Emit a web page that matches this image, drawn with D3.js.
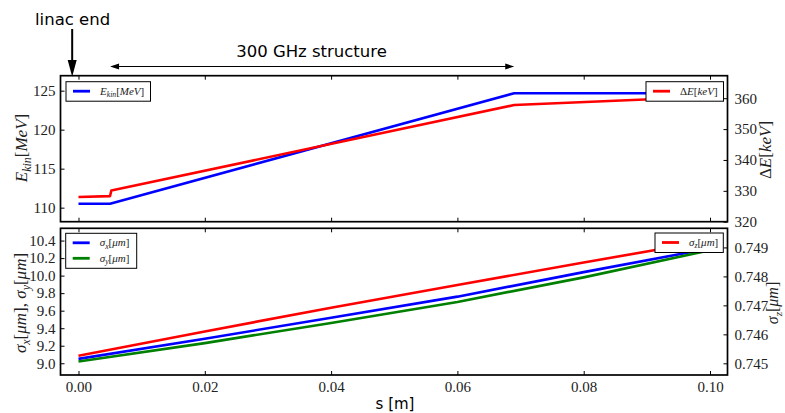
<!DOCTYPE html>
<html>
<head>
<meta charset="utf-8">
<script src="https://cdn.jsdelivr.net/npm/d3@7"></script>
<style>
  body { margin: 0; background: #fff; }
  svg { display: block; }
  .tick text { font-family: "Liberation Serif", serif; font-size: 15px; fill: #222; }
  .tick line { stroke: #000; stroke-width: 1; }
</style>
</head>
<body>
<script>
'use strict';

// top panel: kinetic energy (left) and energy spread (right)
var ekinS = [0, 0.005, 0.069, 0.1];
var ekinVal = [110.5, 110.5, 124.67, 124.67];
var dES = [0, 0.005, 0.0052, 0.069, 0.1];
var dEVal = [328.0, 328.3, 330.1, 357.8, 360.5];

// bottom panel: beam sizes
var sigS = [0, 0.02, 0.04, 0.06, 0.08, 0.1];
var sigX = [9.05, 9.28, 9.52, 9.76, 10.04, 10.31];
var sigY = [9.02, 9.23, 9.46, 9.70, 9.98, 10.29];
var sigZ = [0.74526, 0.74610, 0.74692, 0.74770, 0.74848, 0.74924];

var xTicks = [0, 0.02, 0.04, 0.06, 0.08, 0.1];
var ekinTicks = [110, 115, 120, 125];
var dETicks = [320, 330, 340, 350, 360];
var sigTicks = [9.0, 9.2, 9.4, 9.6, 9.8, 10.0, 10.2, 10.4];
var sigZTicks = [0.745, 0.746, 0.747, 0.748, 0.749];

var structStart = 0.005, structEnd = 0.069, linacEnd = -0.001;

var w = 785, h = 413,
    left = 60.5, right = 727.5,
    top1 = 75.7, bot1 = 221.7,
    top2 = 228.3, bot2 = 375;

var svg = d3.select("body").append("svg")
    .attr("width", w)
    .attr("height", h);

var x = d3.scaleLinear().domain([-0.00285, 0.10277]).range([left, right]);
var y1 = d3.scaleLinear().domain([108.2, 126.92]).range([bot1, top1]);
var y2 = d3.scaleLinear().domain([320, 367.3]).range([bot1, top1]);
var y3 = d3.scaleLinear().domain([8.866, 10.54]).range([bot2, top2]);
var y4 = d3.scaleLinear().domain([0.744597, 0.74966]).range([bot2, top2]);

function axis(g, a, tx, ty) {
    svg.append("g")
        .attr("transform", "translate(" + tx + "," + ty + ")")
        .call(a)
        .call(function (s) { s.select(".domain").remove(); });
}

// x ticks, inside, on both edges of both panels
[[top1, bot1], [top2, bot2]].forEach(function (p, i) {
    axis(svg, d3.axisTop(x).tickValues(xTicks).tickSize(-4).tickFormat(""), 0, p[0]);
    axis(svg, d3.axisBottom(x).tickValues(xTicks).tickSize(-4).tickPadding(6)
        .tickFormat(i == 1 ? d3.format(".2f") : ""), 0, p[1]);
});

axis(svg, d3.axisLeft(y1).tickValues(ekinTicks).tickSize(-4).tickPadding(5).tickFormat(d3.format("d")), left, 0);
axis(svg, d3.axisRight(y2).tickValues(dETicks).tickSize(-4).tickPadding(7).tickFormat(d3.format("d")), right, 0);
axis(svg, d3.axisLeft(y3).tickValues(sigTicks).tickSize(-4).tickPadding(5).tickFormat(d3.format(".1f")), left, 0);
axis(svg, d3.axisRight(y4).tickValues(sigZTicks).tickSize(-4).tickPadding(7).tickFormat(d3.format(".3f")), right, 0);

function line(xs, ys, ys2, color) {
    var pts = xs.map(function (d, i) { return [x(d), ys2(ys[i])]; });
    svg.append("path")
        .attr("d", d3.line()(pts))
        .attr("fill", "none")
        .attr("stroke", color)
        .attr("stroke-width", 2.6)
        .attr("stroke-linejoin", "round");
}

line(ekinS, ekinVal, y1, "#0000ff");
line(dES, dEVal, y2, "#ff0000");
line(sigS, sigX, y3, "#0000ff");
line(sigS, sigY, y3, "#008000");
line(sigS, sigZ, y4, "#ff0000");

// frames
[[top1, bot1], [top2, bot2]].forEach(function (p) {
    svg.append("rect")
        .attr("x", left).attr("y", p[0])
        .attr("width", right - left).attr("height", p[1] - p[0])
        .attr("fill", "none").attr("stroke", "#000").attr("stroke-width", 1.7);
});

// math-like text: segments of [text, italic, sub]
function mathText(g, parts, size) {
    var t = g.append("text")
        .attr("font-family", "Liberation Serif, serif")
        .attr("font-size", size)
        .attr("fill", "#222");
    parts.forEach(function (p) {
        var ts = t.append("tspan").text(p[0])
            .attr("font-style", p[1] ? "italic" : "normal");
        if (p[2]) ts.attr("font-size", size * 0.7).attr("dy", size * 0.22);
        else if (p[3]) ts.attr("dy", -size * 0.22);
    });
    return t;
}

var ekinParts = [["E", 1], ["kin", 1, 1], ["[", 0, 0, 1], ["MeV", 1], ["]", 0]];
var dEParts = [["\u0394", 0], ["E", 1], ["[", 0], ["keV", 1], ["]", 0]];
var sxParts = [["\u03c3", 1], ["x", 1, 1], ["[", 0, 0, 1], ["\u03bcm", 1], ["],", 0], [" \u03c3", 1], ["y", 1, 1], ["[", 0, 0, 1], ["\u03bcm", 1], ["]", 0]];
var szParts = [["\u03c3", 1], ["z", 1, 1], ["[", 0, 0, 1], ["\u03bcm", 1], ["]", 0]];

function yLabel(parts, cx, cy, size) {
    var g = svg.append("g").attr("transform", "translate(" + cx + "," + cy + ") rotate(-90)");
    mathText(g, parts, size).attr("text-anchor", "middle").attr("y", 5);
}
yLabel(ekinParts, 22, 148, 17);
yLabel(dEParts, 766, 150, 17);
yLabel(sxParts, 21, 303, 17);
yLabel(szParts, 773, 303, 16);

// legends
function legend(bx, by, bw, items) {
    var bh = items.length * 15.5 + 4;
    var g = svg.append("g");
    g.append("rect")
        .attr("x", bx).attr("y", by).attr("width", bw).attr("height", bh)
        .attr("fill", "#fff").attr("stroke", "#000").attr("stroke-width", 1);
    items.forEach(function (it, i) {
        var cy = by + 9.5 + i * 15.5;
        g.append("line")
            .attr("x1", bx + 7).attr("x2", bx + 24)
            .attr("y1", cy).attr("y2", cy)
            .attr("stroke", it.color).attr("stroke-width", 2.8);
        mathText(g, it.parts, 11).attr("x", bx + 34).attr("y", cy + 3.5);
    });
}
legend(66, 81.7, 84.5, [{color: "#0000ff", parts: ekinParts}]);
legend(646, 81.7, 77.5, [{color: "#ff0000", parts: dEParts}]);
legend(65.7, 233.3, 71, [
    {color: "#0000ff", parts: [["\u03c3", 1], ["x", 1, 1], ["[", 0, 0, 1], ["\u03bcm", 1], ["]", 0]]},
    {color: "#008000", parts: [["\u03c3", 1], ["y", 1, 1], ["[", 0, 0, 1], ["\u03bcm", 1], ["]", 0]]}
]);
legend(655, 233, 68.3, [{color: "#ff0000", parts: szParts}]);

// annotations
svg.append("text")
    .attr("x", 35).attr("y", 25)
    .attr("font-family", "DejaVu Sans, sans-serif").attr("font-size", 16.5)
    .text("linac end");

var ax = x(linacEnd);
svg.append("line")
    .attr("x1", ax).attr("x2", ax).attr("y1", 29).attr("y2", 62)
    .attr("stroke", "#000").attr("stroke-width", 2);
svg.append("path")
    .attr("d", "M" + (ax - 4.5) + ",60L" + (ax + 4.5) + ",60L" + ax + "," + (top1 + 1) + "Z")
    .attr("fill", "#000");

svg.append("text")
    .attr("x", 311.5).attr("y", 57)
    .attr("text-anchor", "middle")
    .attr("font-family", "DejaVu Sans, sans-serif").attr("font-size", 16.5)
    .text("300 GHz structure");

var a1 = x(structStart), a2 = x(structEnd), ay = 66.5;
svg.append("line")
    .attr("x1", a1 + 4).attr("x2", a2 - 4).attr("y1", ay).attr("y2", ay)
    .attr("stroke", "#000").attr("stroke-width", 1.2);
svg.append("path")
    .attr("d", "M" + a1 + "," + ay + "L" + (a1 + 9) + "," + (ay - 3) + "L" + (a1 + 9) + "," + (ay + 3) + "Z" +
        "M" + a2 + "," + ay + "L" + (a2 - 9) + "," + (ay - 3) + "L" + (a2 - 9) + "," + (ay + 3) + "Z")
    .attr("fill", "#000");

svg.append("text")
    .attr("x", 395).attr("y", 409)
    .attr("text-anchor", "middle")
    .attr("font-family", "DejaVu Sans, sans-serif").attr("font-size", 15)
    .text("s [m]");
</script>
</body>
</html>
